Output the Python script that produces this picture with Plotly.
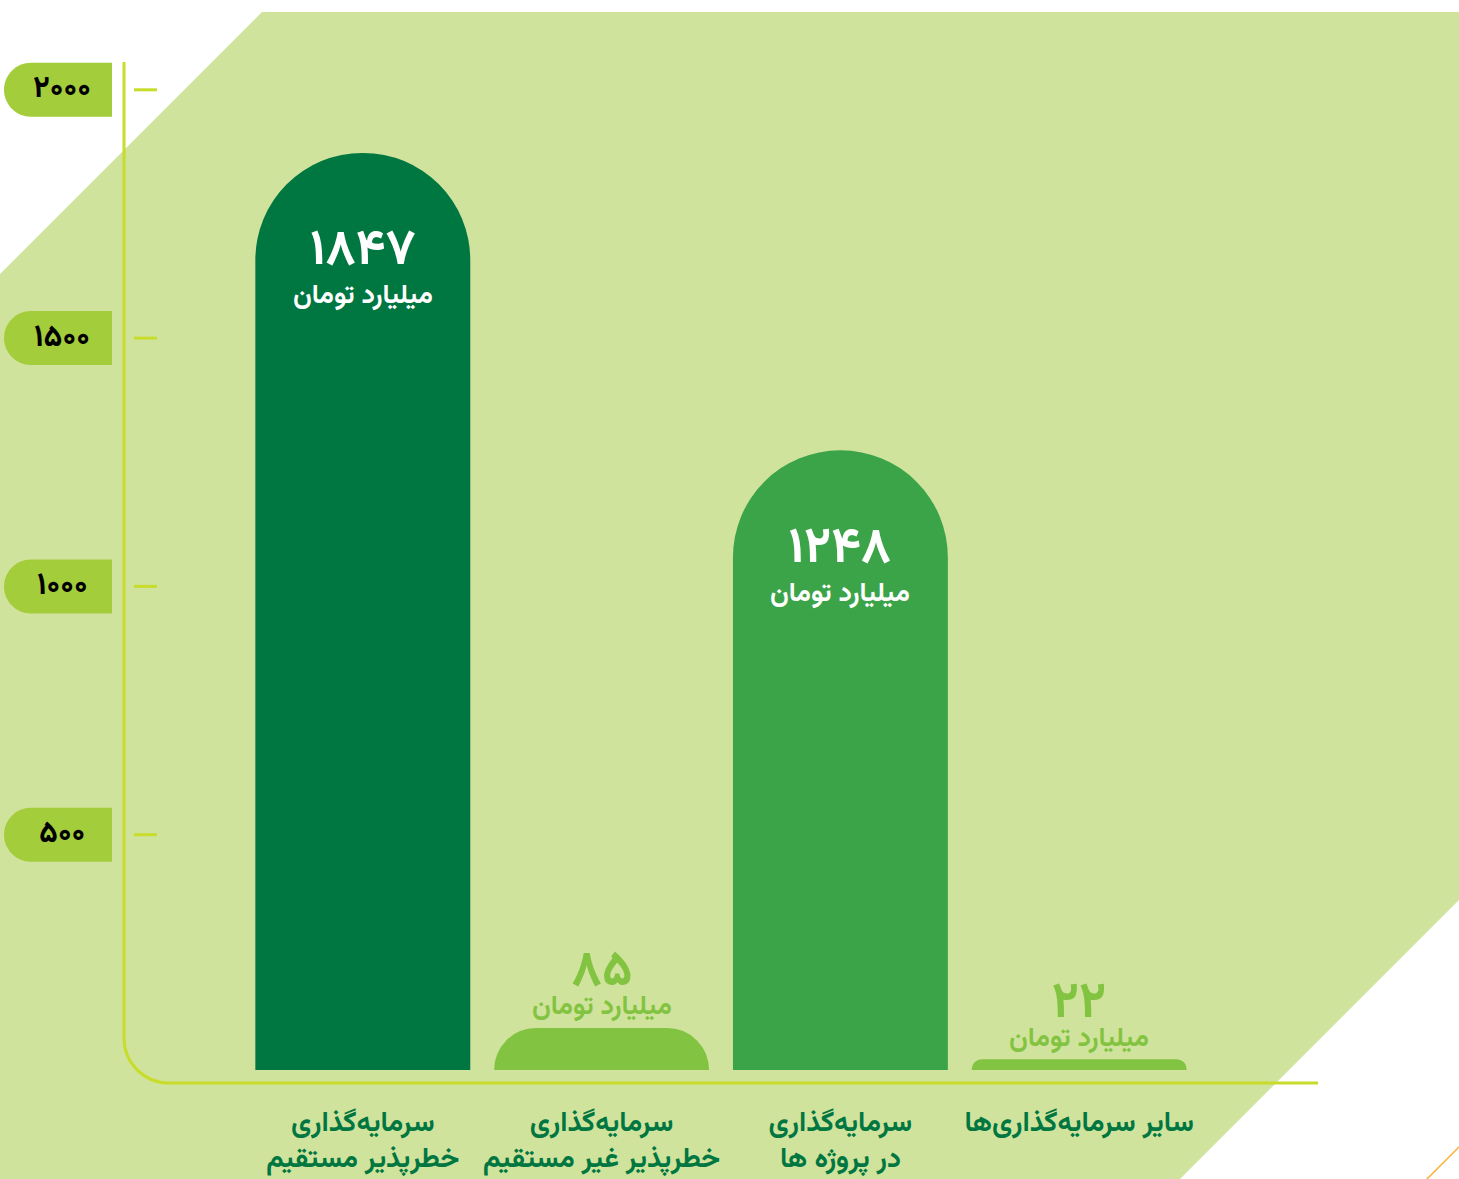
import plotly.graph_objects as go

# ---------------- data ----------------
CATEGORIES = [
    "سرمایه‌گذاری<br>خطرپذیر مستقیم",
    "سرمایه‌گذاری<br>خطرپذیر غیر مستقیم",
    "سرمایه‌گذاری<br>در پروژه ها",
    "سایر سرمایه‌گذاری‌ها",
]
VALUES = [1847, 85, 1248, 22]
UNIT_LABEL = "میلیارد تومان"
TICK_VALUES = [500, 1000, 1500, 2000]
TICK_LABELS = ["۵۰۰", "۱۰۰۰", "۱۵۰۰", "۲۰۰۰"]

# ---------------- styles ----------------
BAR_COLORS = ["#007641", "#82c341", "#3ca448", "#82c341"]
CORNER_RADII = ["50%", 42, "50%", 11]
BG_GREEN = "#d0e39c"
PILL_GREEN = "#a3cd3b"
AXIS_GREEN = "#c8dc2c"
DARK_GREEN = "#007641"
LIGHT_TEXT = "#82c341"
FONT = "Vazirmatn, 'Noto Sans Arabic', 'DejaVu Sans', sans-serif"

W, H = 1459, 1179
ML, MR, MT, MB = 124, 141, 62, 96
PW, PH = W - ML - MR, H - MT - MB
Y_MAX = 2056
BAR_LIFT = 26  # bars sit slightly above the axis line, as in the original
INSIDE_THRESHOLD = 500


def px_x(px):
    return (px - ML) / PW


def px_y(py):
    return (H - MB - py) / PH


def fa_digits(v):
    return str(v).translate(str.maketrans("0123456789", "۰۱۲۳۴۵۶۷۸۹"))


fig = go.Figure()
for cat, val, col, rad in zip(CATEGORIES, VALUES, BAR_COLORS, CORNER_RADII):
    fig.add_trace(go.Bar(
        x=[cat], y=[val], width=0.9, yaxis="y2",
        marker=dict(color=col, cornerradius=rad, line=dict(width=0)),
        hovertemplate="%{x}: %{y}<extra></extra>",
        showlegend=False,
    ))

shapes = []
# background polygon
poly = [(262, 12), (1475, 12), (1475, 884), (1164, 1195), (-15, 1195), (-15, 289)]
path = "M " + " L ".join(f"{px_x(a):.5f},{px_y(b):.5f}" for a, b in poly) + " Z"
shapes.append(dict(type="path", xref="paper", yref="paper", path=path,
                   fillcolor=BG_GREEN, line=dict(width=0), layer="below"))
# orange accent line
shapes.append(dict(type="line", xref="paper", yref="paper",
                   x0=px_x(1425), y0=px_y(1181), x1=px_x(1461), y1=px_y(1145),
                   line=dict(color="#f9b233", width=1.5), layer="below"))
# axis line with rounded corner
k = 0.5523
rx, ry = 45 / PW, 45 / PH
axis_path = (f"M 0,1 L 0,{ry:.5f} C 0,{ry*(1-k):.5f} {rx*(1-k):.5f},0 {rx:.5f},0 L 1,0")
shapes.append(dict(type="path", xref="paper", yref="paper", path=axis_path,
                   line=dict(color=AXIS_GREEN, width=3), layer="below"))
# tick marks and pills
r = 27
pill = (f"M 0,{r} L {-81},{r} C {-81-r*k:.2f},{r} {-108},{r*k:.2f} {-108},0 "
        f"C {-108},{-r*k:.2f} {-81-r*k:.2f},{-r} {-81},{-r} L 0,{-r} Z")
for tv in TICK_VALUES:
    shapes.append(dict(type="line", xref="paper", yref="y",
                       x0=px_x(134), x1=px_x(157), y0=tv, y1=tv,
                       line=dict(color=AXIS_GREEN, width=3), layer="below"))
    shapes.append(dict(type="path", xref="paper", yref="y",
                       xsizemode="pixel", ysizemode="pixel",
                       xanchor=px_x(112), yanchor=tv, path=pill,
                       fillcolor=PILL_GREEN, line=dict(width=0), layer="below"))

annotations = []
for tv, tl in zip(TICK_VALUES, TICK_LABELS):
    annotations.append(dict(xref="paper", yref="y", x=px_x(62), y=tv, text=f"<b>{tl}</b>",
                            showarrow=False, xanchor="center", yanchor="middle",
                            font=dict(family=FONT, size=31, color="#000000")))

for cat, val in zip(CATEGORIES, VALUES):
    if val > INSIDE_THRESHOLD:
        col, shift, base_size = "#ffffff", -113, 30
    else:
        col, shift, base_size = LIGHT_TEXT, 46, 22
    txt = (f"<span style='font-size:50px'><b>{fa_digits(val)}</b></span><br>"
           f"<span style='font-size:27px'><b>{UNIT_LABEL}</b></span>")
    annotations.append(dict(x=cat, y=val, xref="x", yref="y2", text=txt,
                            showarrow=False, yshift=shift, yanchor="middle",
                            font=dict(family=FONT, size=base_size, color=col)))

fig.update_layout(
    width=W, height=H,
    margin=dict(l=ML, r=MR, t=MT, b=MB, pad=0, autoexpand=False),
    paper_bgcolor="#ffffff", plot_bgcolor="rgba(0,0,0,0)",
    barmode="overlay",
    shapes=shapes, annotations=annotations,
    font=dict(family=FONT),
    xaxis=dict(range=[-1, 4], showgrid=False, zeroline=False, showline=False,
               automargin=False, ticks="", ticklabelstandoff=19,
               tickprefix="<b>", ticksuffix="</b>",
               tickfont=dict(family=FONT, size=28, color=DARK_GREEN)),
    yaxis=dict(range=[0, Y_MAX], tickvals=TICK_VALUES, ticktext=TICK_LABELS,
               automargin=False,
               showticklabels=False, showgrid=False, zeroline=False, showline=False,
               ticks=""),
    yaxis2=dict(range=[-BAR_LIFT, Y_MAX - BAR_LIFT], overlaying="y", visible=False,
                automargin=False, showgrid=False, zeroline=False),
)

fig.write_html("out.html", config={"displayModeBar": False},
               post_script="document.body.style.margin='0';document.body.style.overflow='hidden';")
